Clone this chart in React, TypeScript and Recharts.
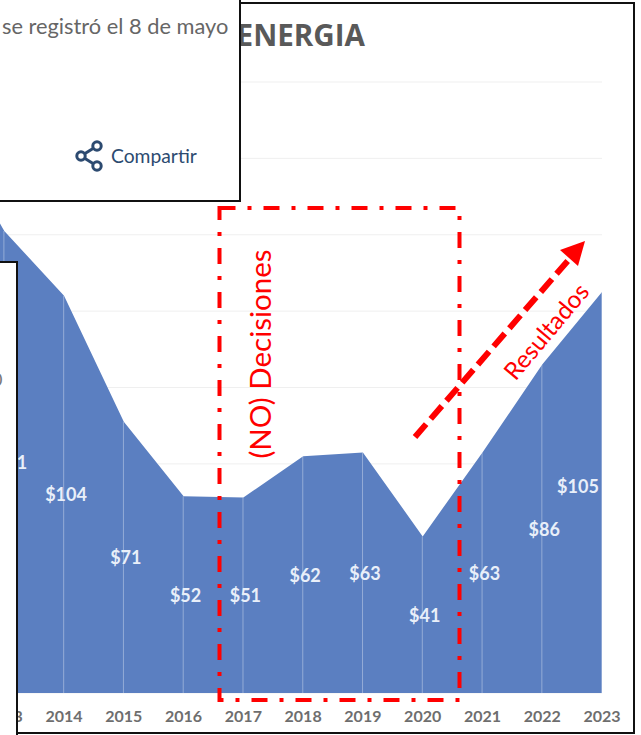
import { Area, Bar, CartesianGrid, ComposedChart, XAxis, YAxis } from "recharts";

const years = ["2012", "2013", "2014", "2015", "2016", "2017", "2018", "2019", "2020", "2021", "2022", "2023"];
// 2012 is off the crop, only its slope shows at the left edge
const costs = [148, 121, 104, 71, 51.5, 51.2, 62, 63, 41, 63, 86, 105];
const yTicks = [0, 20, 40, 60, 80, 100, 120, 140, 160];

const rows = years.map((year, index) => ({ year, cost: costs[index] }));

const WIDTH = 641;
const HEIGHT = 735;
const PLOT_BOTTOM = 693;
const RED = "#FF0000";
const FONT = "Lato, 'Open Sans', sans-serif";

function MidLabel(props: any) {
  const { x, y, index } = props;
  const last = index === costs.length - 1;
  return (
    <text
      x={x + (last ? -24 : 2)}
      y={(y + PLOT_BOTTOM) / 2 + (last ? -7 : 0)}
      dy={7}
      textAnchor="middle"
      fill="#E9EFF9"
      fontSize={18}
      fontWeight={700}
      fontFamily={FONT}
    >
      ${Math.round(costs[index])}
    </text>
  );
}

function Annotations() {
  return (
    <svg width={WIDTH} height={HEIGHT} style={{ position: "absolute", left: 0, top: 0 }}>
      <rect x={219.5} y={208} width={240} height={492} fill="none" stroke={RED} strokeWidth={4} strokeDasharray="16 12 4 12" />
      <text
        transform="translate(271 354) rotate(-90)"
        textAnchor="middle"
        fill={RED}
        fontSize={29.5}
        fontFamily={FONT}
      >
        (NO) Decisiones
      </text>
      <text
        transform="translate(553 337) rotate(-50)"
        textAnchor="middle"
        fill={RED}
        fontSize={24.5}
        fontFamily={FONT}
      >
        Resultados
      </text>
      <line x1={415} y1={437} x2={572} y2={256} stroke={RED} strokeWidth={6} strokeDasharray="17 7" />
      <polygon points="585,241 578,266 560,250" fill={RED} />
    </svg>
  );
}

function ShareIcon() {
  return (
    <svg width={30} height={32} style={{ position: "absolute", left: 75, top: 140 }}>
      <g fill="none" stroke="#2C4A70" strokeWidth={3}>
        <line x1={6} y1={16} x2={22} y2={6} />
        <line x1={6} y1={16} x2={22} y2={26} />
        <circle cx={6} cy={16} r={4.2} fill="#fff" />
        <circle cx={22} cy={6} r={4.2} fill="#fff" />
        <circle cx={22} cy={26} r={4.2} fill="#fff" />
      </g>
    </svg>
  );
}

export default function App() {
  return (
    <div style={{ position: "absolute", left: 0, top: 0, width: WIDTH, height: HEIGHT, overflow: "hidden", background: "#fff", fontFamily: FONT }}>
      <div style={{ position: "absolute", left: 0, top: 0 }}>
        <ComposedChart
          width={WIDTH}
          height={HEIGHT}
          data={rows}
          margin={{ top: 82, right: 39, bottom: 0, left: -55.5 }}
        >
          <CartesianGrid vertical={false} stroke="#EFEFEF" />
          <XAxis
            dataKey="year"
            scale="point"
            height={42}
            axisLine={false}
            tickLine={false}
            interval={0}
            tickMargin={12}
            tick={{ fill: "#6E6E6E", fontSize: 16, fontFamily: FONT, fontWeight: 700 }}
          />
          <YAxis hide domain={[0, 160]} ticks={yTicks} />
          <Area
            dataKey="cost"
            type="linear"
            stroke="none"
            fill="#5B7FC1"
            fillOpacity={1}
            isAnimationActive={false}
            label={MidLabel}
          />
          <Bar dataKey="cost" barSize={1} fill="#FFFFFF" fillOpacity={0.35} isAnimationActive={false} />
        </ComposedChart>
      </div>

      {/* outer frame of the screenshot, its left side is hidden by the pasted panels */}
      <div style={{ position: "absolute", left: 18, top: 2, width: 615, height: 728, border: "2px solid #111", borderLeft: "none" }} />

      <div
        style={{
          position: "absolute",
          left: 200,
          top: 17,
          width: 165,
          textAlign: "right",
          fontSize: 29.6,
          lineHeight: "36px",
          fontWeight: 700,
          color: "#595959",
          fontFamily: "'Open Sans', sans-serif",
          whiteSpace: "nowrap"
        }}
      >
        ENERGIA
      </div>

      <Annotations />

      {/* pasted news panel, top left */}
      <div style={{ position: "absolute", left: -4, top: -4, width: 241, height: 202, background: "#fff", border: "2px solid #111" }}>
        <div style={{ position: "absolute", left: 4, top: 14, fontSize: 21.8, color: "#666", whiteSpace: "nowrap" }}>
          se registró el 8 de mayo
        </div>
        <div style={{ position: "absolute", left: 113, top: 146, fontSize: 19.3, color: "#2C4A70", whiteSpace: "nowrap" }}>
          Compartir
        </div>
      </div>
      <ShareIcon />

      {/* pasted panel, left edge */}
      <div style={{ position: "absolute", left: -4, top: 261, width: 20, height: 480, background: "#fff", borderRight: "2px solid #111", borderTop: "2px solid #111", overflow: "hidden" }}>
        <div style={{ position: "absolute", left: -4, top: 105, fontSize: 18, color: "#777" }}>0</div>
      </div>
    </div>
  );
}
